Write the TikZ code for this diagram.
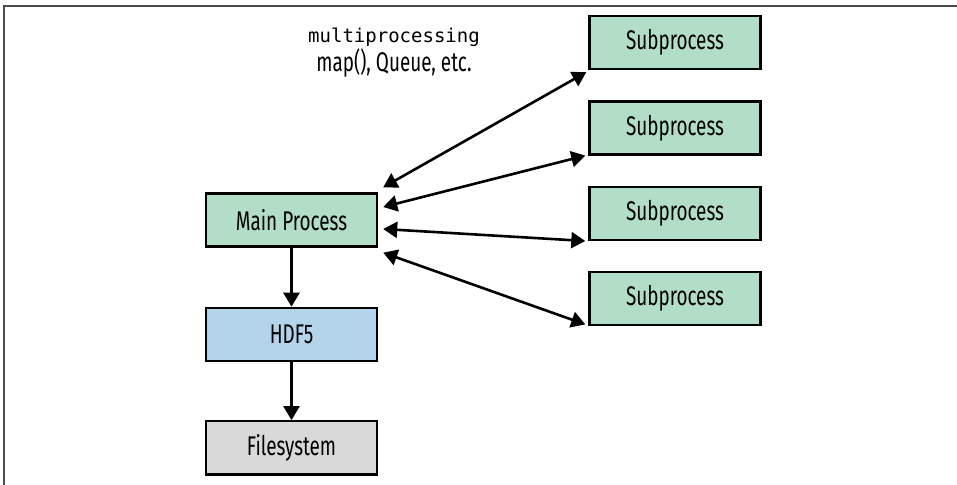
\documentclass[tikz,border=0pt]{standalone}
\usepackage{fontspec}
\setmainfont{Fira Sans}[FakeStretch=0.7]
\setmonofont{DejaVu Sans Mono}
\usetikzlibrary{positioning,arrows.meta}
\definecolor{procgreen}{RGB}{178,222,200}
\definecolor{hdfblue}{RGB}{179,212,234}
\definecolor{fsgray}{RGB}{217,217,217}

\begin{document}
\begin{tikzpicture}[x=0.5pt,y=-0.5pt,% one unit is one pixel, y runs down
        box/.style={draw,line width=1.2pt,minimum width=85.5pt,minimum height=26.5pt,inner sep=0pt,%
                font=\fontsize{13.5}{15}\selectfont},
        link/.style={line width=1.3pt,-{Triangle[length=7pt,width=8pt]}},
        twoway/.style={line width=1.3pt,{Triangle[length=7pt,width=8pt]}-{Triangle[length=7pt,width=8pt]}}]
\useasboundingbox (0,0) rectangle (957,485);
\draw[line width=1pt,black!70] (957,6) -- (4,6) -- (4,485); % page frame, top and left only

\node[box,fill=procgreen] (main) at (291.5,220) {Main Process};
\node[box,fill=hdfblue,below=29.5pt of main] (hdf) {HDF5};
\node[box,fill=fsgray,below=29pt of hdf] (fs) {Filesystem};

\node[box,fill=procgreen] (sub-1) at (675,42.5) {Subprocess};
\foreach \i [count=\j from 2] in {1,2,3}{ % stack the other three under the first
\node[box,fill=procgreen,below=15pt of sub-\i] (sub-\j) {Subprocess};
}

\node[align=center,font=\fontsize{13.5}{13}\selectfont] (mp) at (394,53)
        {{\fontsize{9.5}{13}\selectfont\ttfamily multiprocessing}\\map(), Queue, etc.};

\draw[link] (main) -- (hdf);
\draw[link] (hdf) -- (fs);

\draw[twoway] ([shift={(2.5pt,2.5pt)}]main.north east) -- ([shift={(-1pt,-1pt)}]sub-1.south west);
\draw[twoway] ([shift={(2.5pt,6.5pt)}]main.east) -- ([xshift=-1.5pt]sub-2.south west);
\draw[twoway] ([shift={(2.5pt,-4.5pt)}]main.east) -- ([xshift=-1.5pt]sub-3.south west);
\draw[twoway] ([shift={(2.5pt,-2.5pt)}]main.south east) -- ([shift={(-1.5pt,1pt)}]sub-4.south west);
\end{tikzpicture}
\end{document}
